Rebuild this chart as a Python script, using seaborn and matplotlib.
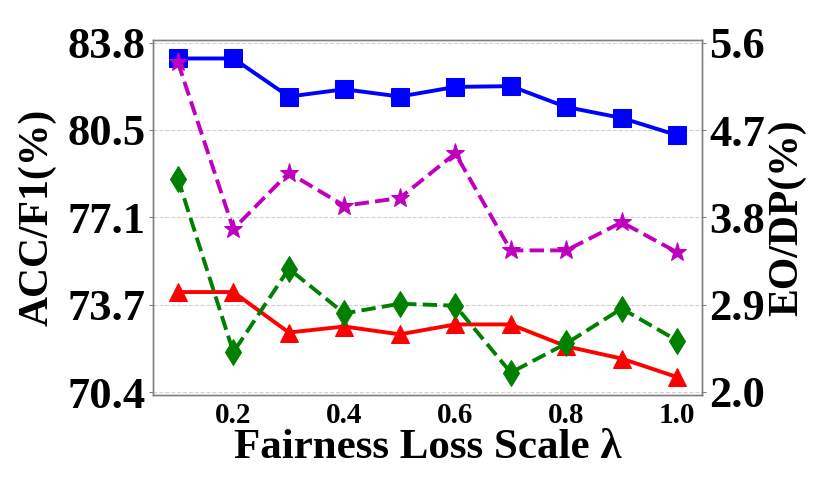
import numpy as np
import pandas as pd
import matplotlib
matplotlib.use("Agg")
import matplotlib.pyplot as plt
import seaborn as sns

# fairness loss scale (x axis)
lam = [0.1, 0.2, 0.3, 0.4, 0.5, 0.6, 0.7, 0.8, 0.9, 1.0]

# left axis: ACC / F1 (%)
acc = [83.19, 83.19, 81.73, 82.01, 81.73, 82.10, 82.13, 81.33, 80.91, 80.25]
f1 = [74.24, 74.24, 72.69, 72.92, 72.62, 73.00, 73.00, 72.16, 71.69, 70.98]

# right axis: EO / DP (%)
eo = [5.40, 3.68, 4.26, 3.92, 4.00, 4.46, 3.46, 3.46, 3.75, 3.44]
dp = [4.20, 2.41, 3.27, 2.81, 2.91, 2.89, 2.20, 2.50, 2.86, 2.53]

left_ticks = [70.4, 73.75, 77.1, 80.45, 83.8]
left_labels = ["70.4", "73.7", "77.1", "80.5", "83.8"]
right_ticks = [2.0, 2.9, 3.8, 4.7, 5.6]
right_labels = ["2.0", "2.9", "3.8", "4.7", "5.6"]
x_ticks = [0.2, 0.4, 0.6, 0.8, 1.0]

sns.set_style("white")
plt.rcParams['font.family'] = ['Liberation Serif', 'DejaVu Serif']
plt.rcParams['font.weight'] = 'bold'
plt.rcParams['text.color'] = 'black'
plt.rcParams['axes.labelcolor'] = 'black'

df = pd.DataFrame({'lam': lam, 'acc': acc, 'f1': f1, 'eo': eo, 'dp': dp})

fig, ax = plt.subplots(figsize=(8.31, 4.93), dpi=100)
fig.subplots_adjust(left=0.184, right=0.845, top=0.919, bottom=0.199)
ax2 = ax.twinx()

ms = 13
lw = 2.8
sns.lineplot(data=df, x='lam', y='acc', ax=ax, color='b', marker='s', markersize=ms,
             linewidth=lw, markeredgecolor='b')
sns.lineplot(data=df, x='lam', y='f1', ax=ax, color='r', marker='^', markersize=ms,
             linewidth=lw, markeredgecolor='r')
sns.lineplot(data=df, x='lam', y='eo', ax=ax2, color='m', marker='*', markersize=ms + 1,
             linewidth=lw, linestyle='--', markeredgecolor='m')
sns.lineplot(data=df, x='lam', y='dp', ax=ax2, color='g', marker='d', markersize=ms,
             linewidth=lw, linestyle='--', markeredgecolor='g')

ax.set_xlim(0.055, 1.045)
ax.set_ylim(70.3, 83.9)
ax2.set_ylim(1.97, 5.63)

ax.set_xticks(x_ticks)
ax.set_xticklabels([f"{v:.1f}" for v in x_ticks], fontsize=21, fontweight='bold')
ax.set_yticks(left_ticks)
ax.set_yticklabels(left_labels, fontsize=32, fontweight='bold')
ax2.set_yticks(right_ticks)
ax2.set_yticklabels(right_labels, fontsize=32, fontweight='bold')

ax.yaxis.grid(True, linestyle='--', color='#d0d0d0', linewidth=0.8)
ax.xaxis.grid(False)

for a in (ax, ax2):
    for s in a.spines.values():
        s.set_color('#808080')
        s.set_linewidth(1.0)
    a.tick_params(axis='both', length=3, width=0.8, color='#808080',
                  labelcolor='black', pad=2)

ax.set_xlabel("Fairness Loss Scale λ", fontsize=31, fontweight='bold', labelpad=0)
ax.set_ylabel("ACC/F1(%)", fontsize=30, fontweight='bold')
ax2.set_ylabel("EO/DP(%)", fontsize=30, fontweight='bold')
ax.yaxis.set_label_coords(-0.175, 0.5)
ax2.yaxis.set_label_coords(1.12, 0.5)

fig.savefig("out.png", dpi=100)
